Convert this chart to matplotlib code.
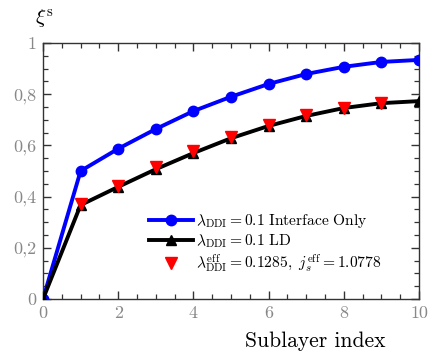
import matplotlib
matplotlib.use("Agg")
import matplotlib.pyplot as plt
from matplotlib.ticker import MultipleLocator

plt.rcParams['mathtext.fontset'] = 'cm'
plt.rcParams['font.family'] = ['cmr10', 'DejaVu Serif']
plt.rcParams['axes.unicode_minus'] = False

x_blue = [0, 1, 2, 3, 4, 5, 6, 7, 8, 9, 10]
y_blue = [0.0, 0.50, 0.587, 0.664, 0.734, 0.790, 0.840, 0.879, 0.907, 0.926, 0.934]
x_black = [0, 1, 2, 3, 4, 5, 6, 7, 8, 9, 10]
y_black = [0.0, 0.367, 0.438, 0.507, 0.570, 0.628, 0.676, 0.715, 0.746, 0.765, 0.773]
x_red = [1, 2, 3, 4, 5, 6, 7, 8, 9]
y_red = [0.372, 0.442, 0.514, 0.577, 0.633, 0.680, 0.718, 0.748, 0.766]

xticks = [0, 2, 4, 6, 8, 10]
xticklabels = ["0", "2", "4", "6", "8", "10"]
yticks = [0, 0.2, 0.4, 0.6, 0.8, 1.0]
yticklabels = ["0", "0,2", "0,4", "0,6", "0,8", "1"]

fig = plt.figure(figsize=(4.36, 3.55), dpi=100)
ax = fig.add_axes([43/436, 1-299/355, (419-43)/436, (299-43)/355])

ax.plot(x_blue, y_blue, color='#0000ff', lw=2.8, marker='o', ms=7.5,
        label=r'$\lambda_{\rm DDI} = 0.1\ \rm Interface\ Only$', zorder=3)
ax.plot(x_black, y_black, color='black', lw=2.8, marker='^', ms=7.5,
        label=r'$\lambda_{\rm DDI} = 0.1\ \rm LD$', zorder=3)
ax.plot(x_red, y_red, ls='none', color='#ff0000', marker='v', ms=8,
        label=r'$\lambda_{\rm DDI}^{\rm eff} = 0.1285,\ j_s^{\rm eff} = 1.0778$', zorder=4)

ax.set_xlim(0, 10)
ax.set_ylim(0, 1)
ax.set_xticks(xticks)
ax.set_xticklabels(xticklabels)
ax.set_yticks(yticks)
ax.set_yticklabels(yticklabels)
ax.xaxis.set_minor_locator(MultipleLocator(0.5))
ax.yaxis.set_minor_locator(MultipleLocator(0.05))
ax.tick_params(which='both', direction='in', top=True, right=True, color='#333333')
ax.tick_params(which='major', length=6, width=1.0, labelsize=13, labelcolor='#888888', pad=5)
ax.tick_params(which='minor', length=3.5, width=0.9)
for s in ax.spines.values():
    s.set_color('#333333')
    s.set_linewidth(1.0)

fig.text(44/436, 1-19/355, r'$\xi^{\rm s}$', fontsize=15, ha='center', va='center')
fig.text(315/436, 1-341/355, 'Sublayer index', fontsize=15.5, ha='center', va='center')

leg = ax.legend(loc='upper left', bbox_to_anchor=(0.253, 0.382), frameon=False,
                fontsize=11.2, handlelength=2.8, handletextpad=0.25, labelspacing=0.15,
                borderpad=0.2)

fig.savefig('out.png', dpi=100)
